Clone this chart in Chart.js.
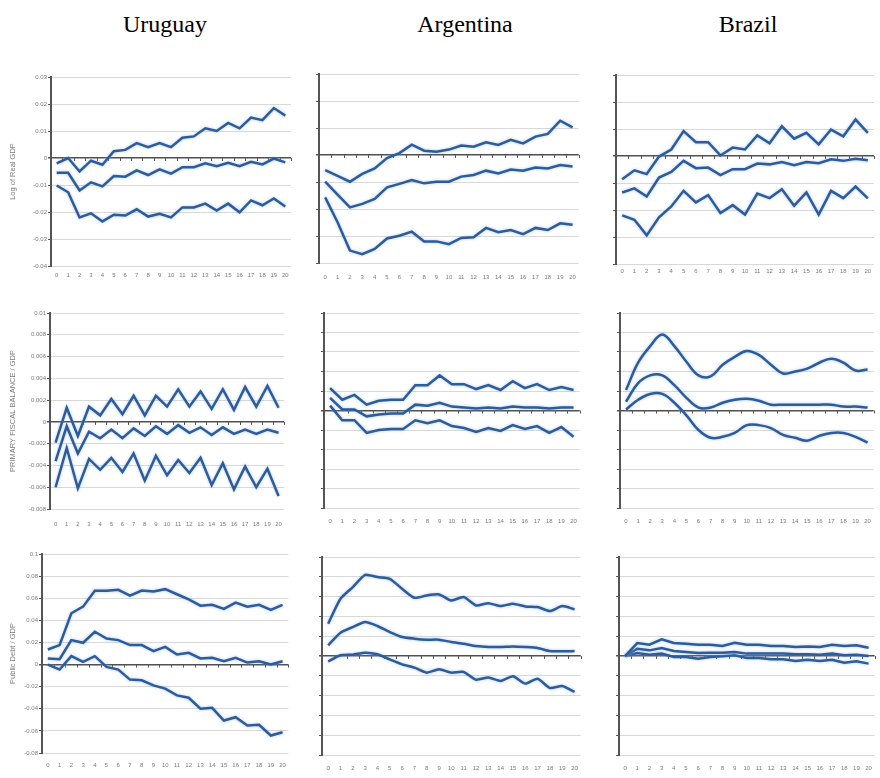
<!DOCTYPE html>
<html>
<head>
<meta charset="utf-8">
<script src="https://cdn.jsdelivr.net/npm/chart.js@4"></script>
<style>
  body { margin: 0; background: #fff; }
  #page { position: relative; width: 880px; height: 778px; overflow: hidden; background: #fff; }
  .country { position: absolute; top: 11px; font-family: "Liberation Serif", "Times New Roman", serif; font-size: 24px; color: #000; transform: translateX(-50%); white-space: nowrap; }
  canvas { position: absolute; }
</style>
</head>
<body>
<div id="page">
  <div class="country" style="left:165px">Uruguay</div>
  <div class="country" style="left:465px">Argentina</div>
  <div class="country" style="left:748px">Brazil</div>
</div>
<script>
// impulse responses, horizons 0..20 (upper band / response / lower band)
const horizons = ['0','1','2','3','4','5','6','7','8','9','10','11','12','13','14','15','16','17','18','19','20'];

const gdpTicks = [0.03, 0.02, 0.01, 0, -0.01, -0.02, -0.03, -0.04];
const balUyTicks = [0.01, 0.008, 0.006, 0.004, 0.002, 0, -0.002, -0.004, -0.006, -0.008];
const balTicks = [0.01, 0.008, 0.006, 0.004, 0.002, 0, -0.002, -0.004, -0.006, -0.008, -0.01];
const debtUyTicks = [0.1, 0.08, 0.06, 0.04, 0.02, 0, -0.02, -0.04, -0.06, -0.08];
const debtTicks = [0.1, 0.08, 0.06, 0.04, 0.02, 0, -0.02, -0.04, -0.06, -0.08, -0.1];

const uyGdpHi = [-0.002, 0.000, -0.005, -0.001, -0.0025, 0.0025, 0.003, 0.0055, 0.004, 0.0055, 0.004, 0.0075, 0.008, 0.011, 0.010, 0.013, 0.011, 0.015, 0.014, 0.0185, 0.0157];
const uyGdpMid = [-0.0055, -0.0055, -0.012, -0.009, -0.0105, -0.0067, -0.0069, -0.0046, -0.0063, -0.0042, -0.0058, -0.0034, -0.0034, -0.002, -0.003, -0.0018, -0.003, -0.0014, -0.0024, -0.0002, -0.0016];
const uyGdpLo = [-0.0102, -0.0127, -0.022, -0.0205, -0.0235, -0.021, -0.0213, -0.019, -0.0217, -0.0207, -0.022, -0.0183, -0.0183, -0.0169, -0.0195, -0.0169, -0.0201, -0.0157, -0.0175, -0.015, -0.018];

const arGdpHi = [-0.0056, -0.0077, -0.0099, -0.007, -0.005, -0.0011, 0.0007, 0.0038, 0.0016, 0.0012, 0.002, 0.0035, 0.0031, 0.0047, 0.0037, 0.0056, 0.0043, 0.0068, 0.0078, 0.0127, 0.0102];
const arGdpMid = [-0.0099, -0.0147, -0.0194, -0.0181, -0.0163, -0.012, -0.0107, -0.0093, -0.0105, -0.0099, -0.0099, -0.008, -0.0074, -0.0058, -0.0068, -0.0054, -0.0058, -0.0046, -0.005, -0.0037, -0.0043];
const arGdpLo = [-0.0157, -0.0249, -0.0354, -0.0367, -0.0348, -0.0309, -0.0299, -0.0284, -0.032, -0.032, -0.033, -0.0307, -0.0305, -0.027, -0.0286, -0.0278, -0.0293, -0.027, -0.0278, -0.0253, -0.0258];

const brGdpHi = [-0.0086, -0.0053, -0.0067, -0.0002, 0.0024, 0.0092, 0.0051, 0.0051, 0.0002, 0.0031, 0.0024, 0.0076, 0.0047, 0.011, 0.0064, 0.0086, 0.0043, 0.0098, 0.0073, 0.0135, 0.0086];
const brGdpMid = [-0.0135, -0.012, -0.015, -0.008, -0.0059, -0.0018, -0.0045, -0.0043, -0.0071, -0.0049, -0.0049, -0.0028, -0.0031, -0.0022, -0.0034, -0.0022, -0.0027, -0.0012, -0.0018, -0.001, -0.0016];
const brGdpLo = [-0.022, -0.0236, -0.0294, -0.0227, -0.0187, -0.0129, -0.0172, -0.0145, -0.0211, -0.0182, -0.0217, -0.0139, -0.0156, -0.0123, -0.0184, -0.0135, -0.0217, -0.0129, -0.0156, -0.0113, -0.0157];

const uyBalHi = [-0.0019, 0.0013, -0.0013, 0.0014, 0.0006, 0.0021, 0.0007, 0.0024, 0.0006, 0.0024, 0.0014, 0.003, 0.0014, 0.0028, 0.0012, 0.003, 0.0011, 0.0032, 0.0014, 0.0033, 0.0013];
const uyBalMid = [-0.0036, -0.0004, -0.0029, -0.0009, -0.0015, -0.0007, -0.0015, -0.0006, -0.0013, -0.0004, -0.0011, -0.0003, -0.001, -0.0005, -0.0012, -0.0005, -0.0011, -0.0007, -0.0011, -0.0007, -0.001];
const uyBalLo = [-0.006, -0.0024, -0.0061, -0.0034, -0.0044, -0.0033, -0.0046, -0.0029, -0.0054, -0.0031, -0.0049, -0.0035, -0.0047, -0.0033, -0.0058, -0.0038, -0.0062, -0.0041, -0.006, -0.0043, -0.0068];

const arBalHi = [0.0023, 0.0011, 0.0016, 0.0006, 0.001, 0.0011, 0.0011, 0.0026, 0.0026, 0.0036, 0.0027, 0.0027, 0.0022, 0.0026, 0.0021, 0.003, 0.0023, 0.0027, 0.0021, 0.0024, 0.0021];
const arBalMid = [0.0013, 0.0001, 0.0001, -0.0006, -0.0004, -0.0003, -0.0003, 0.0006, 0.0005, 0.0008, 0.0004, 0.0003, 0.0002, 0.0003, 0.0002, 0.0004, 0.0003, 0.0003, 0.0002, 0.0003, 0.0003];
const arBalLo = [0.0005, -0.001, -0.001, -0.0023, -0.002, -0.0019, -0.0019, -0.001, -0.0013, -0.001, -0.0016, -0.0018, -0.0022, -0.0018, -0.0021, -0.0015, -0.0019, -0.0016, -0.0023, -0.0017, -0.0027];

const brBalHi = [0.0021, 0.0049, 0.0066, 0.0078, 0.0066, 0.005, 0.0036, 0.0035, 0.0047, 0.0055, 0.0061, 0.0057, 0.0047, 0.0038, 0.004, 0.0043, 0.0049, 0.0053, 0.0049, 0.0041, 0.0042];
const brBalMid = [0.0009, 0.0028, 0.0036, 0.0036, 0.0026, 0.0013, 0.0003, 0.0003, 0.0008, 0.0011, 0.0012, 0.001, 0.0006, 0.0006, 0.0006, 0.0006, 0.0006, 0.0006, 0.0004, 0.0004, 0.0003];
const brBalLo = [0.0001, 0.0011, 0.0017, 0.0017, 0.0008, -0.0005, -0.002, -0.0028, -0.0027, -0.0023, -0.0015, -0.0015, -0.0018, -0.0025, -0.0028, -0.0031, -0.0026, -0.0023, -0.0023, -0.0027, -0.0033];

const uyDebtHi = [0.0136, 0.0176, 0.0464, 0.0524, 0.0667, 0.0667, 0.0676, 0.0624, 0.067, 0.066, 0.0682, 0.0636, 0.059, 0.0533, 0.054, 0.0503, 0.056, 0.0524, 0.054, 0.0494, 0.054];
const uyDebtMid = [0.0055, 0.0048, 0.0221, 0.0197, 0.0297, 0.0236, 0.0221, 0.0176, 0.0176, 0.0121, 0.016, 0.0091, 0.0106, 0.0055, 0.0061, 0.003, 0.0061, 0.0018, 0.003, 0, 0.003];
const uyDebtLo = [0, -0.0045, 0.0076, 0.0024, 0.0076, -0.0021, -0.0045, -0.0136, -0.0142, -0.0188, -0.0218, -0.0279, -0.03, -0.04, -0.0391, -0.0506, -0.0476, -0.0552, -0.0545, -0.0642, -0.0612];

const arDebtHi = [0.0326, 0.0578, 0.0696, 0.082, 0.0797, 0.078, 0.0679, 0.0588, 0.0612, 0.0622, 0.0561, 0.0595, 0.0511, 0.0534, 0.0504, 0.0528, 0.0501, 0.0494, 0.0454, 0.0504, 0.0471];
const arDebtMid = [0.0108, 0.0235, 0.0292, 0.0343, 0.0303, 0.0242, 0.0192, 0.0175, 0.0165, 0.0165, 0.0141, 0.0124, 0.0101, 0.0091, 0.0091, 0.0097, 0.0091, 0.0081, 0.005, 0.0047, 0.005];
const arDebtLo = [-0.0054, 0.0007, 0.0013, 0.0034, 0.0017, -0.0034, -0.0084, -0.0118, -0.0168, -0.0134, -0.0168, -0.0161, -0.0239, -0.0218, -0.0252, -0.0205, -0.0279, -0.0229, -0.0323, -0.0303, -0.0363];

const brDebtHi = [0, 0.0131, 0.0114, 0.0168, 0.0131, 0.0124, 0.0114, 0.0114, 0.0101, 0.0134, 0.0114, 0.0114, 0.0101, 0.0101, 0.0091, 0.0097, 0.0091, 0.0114, 0.0101, 0.0108, 0.0084];
const brDebtMid = [0, 0.0074, 0.0057, 0.0081, 0.005, 0.004, 0.003, 0.0034, 0.0034, 0.004, 0.0024, 0.0024, 0.0024, 0.0024, 0.0017, 0.0017, 0.0013, 0.0024, 0.0007, 0.0013, 0];
const brDebtLo = [0, 0.003, 0.0013, 0.0024, -0.001, -0.001, -0.0027, -0.001, -0.0003, 0.0007, -0.002, -0.002, -0.0034, -0.0034, -0.005, -0.0037, -0.005, -0.0037, -0.0067, -0.0054, -0.0077];

const LINE = '#2e5b9a';
const PAD_T = 8, PAD_R = 4, X_H = 24;

// plot box = [left, right, top, bottom] of the plotting area on the page
const panels = [
  { series: [uyGdpHi, uyGdpMid, uyGdpLo], ticks: gdpTicks, title: 'Log of Real GDP', box: [51, 291, 77, 266], gap: 6 },
  { series: [arGdpHi, arGdpMid, arGdpLo], ticks: gdpTicks, box: [319, 583, 74, 263], gap: 11 },
  { series: [brGdpHi, brGdpMid, brGdpLo], ticks: gdpTicks, box: [616, 874, 75, 264], gap: 4 },
  { series: [uyBalHi, uyBalMid, uyBalLo], ticks: balUyTicks, title: 'PRIMARY FISCAL BALANCE / GDP', box: [50, 290, 313, 509], gap: 12 },
  { series: [arBalHi, arBalMid, arBalLo], ticks: balTicks, box: [324, 583, 313, 508], gap: 10 },
  { series: [brBalHi, brBalMid, brBalLo], ticks: balTicks, box: [620, 877, 313, 508], gap: 10, tension: 0.4 },
  { series: [uyDebtHi, uyDebtMid, uyDebtLo], ticks: debtUyTicks, title: 'Public Debt / GDP', box: [42, 291, 554, 753], gap: 9 },
  { series: [arDebtHi, arDebtMid, arDebtLo], ticks: debtTicks, box: [322, 584, 557, 755], gap: 10, tension: 0.2 },
  { series: [brDebtHi, brDebtMid, brDebtLo], ticks: debtTicks, box: [619, 878, 557, 755], gap: 10 }
];

// small cross marks along the zero line, one per category boundary
const zeroTicks = {
  id: 'zeroTicks',
  beforeDatasetsDraw(chart) {
    const x = chart.scales.x, y = chart.scales.y, ctx = chart.ctx;
    const y0 = y.getPixelForValue(0);
    const step = (x.right - x.left) / x.ticks.length;
    ctx.save();
    ctx.strokeStyle = '#555';
    ctx.lineWidth = 1;
    ctx.beginPath();
    for (let i = 0; i <= x.ticks.length; i++) {
      const px = Math.round(x.left + i * step) + 0.5;
      ctx.moveTo(px, y0);
      ctx.lineTo(px, y0 + 3);
    }
    ctx.stroke();
    ctx.restore();
  }
};

// soft halo around the lines, like the scanned original
const halo = {
  id: 'halo',
  beforeDatasetsDraw(chart) {
    chart.ctx.save();
    chart.ctx.shadowColor = 'rgba(130,175,230,0.7)';
    chart.ctx.shadowBlur = 3;
  },
  afterDatasetsDraw(chart) { chart.ctx.restore(); }
};

function makePanel(p) {
  const [pl, pr, pt, pb] = p.box;
  const labelled = !!p.title;
  const yW = labelled ? pl : 10;
  const left = pl - yW, top = pt - PAD_T;
  const width = pr + PAD_R - left, height = pb + X_H - top;

  const canvas = document.createElement('canvas');
  canvas.width = width;
  canvas.height = height;
  canvas.style.left = left + 'px';
  canvas.style.top = top + 'px';
  canvas.style.width = width + 'px';
  canvas.style.height = height + 'px';
  document.getElementById('page').appendChild(canvas);

  new Chart(canvas, {
    type: 'line',
    data: {
      labels: horizons,
      datasets: p.series.map(s => ({
        data: s,
        borderColor: LINE,
        borderWidth: 2.5,
        pointRadius: 0,
        tension: p.tension || 0,
        fill: false
      }))
    },
    options: {
      responsive: false,
      animation: false,
      layout: { padding: { top: PAD_T, right: PAD_R, left: 0, bottom: 0 } },
      plugins: { legend: { display: false }, tooltip: { enabled: false } },
      scales: {
        x: {
          type: 'category',
          offset: true,
          afterFit: s => { s.height = X_H; },
          border: { display: false },
          grid: { display: false, drawTicks: false },
          ticks: {
            font: { family: 'Liberation Sans', size: 6 },
            color: '#7a7a7a',
            maxRotation: 0,
            minRotation: 0,
            autoSkip: false,
            padding: p.gap
          }
        },
        y: {
          type: 'linear',
          min: p.ticks[p.ticks.length - 1],
          max: p.ticks[0],
          afterBuildTicks: s => { s.ticks = p.ticks.map(v => ({ value: v })); },
          afterFit: s => { s.width = yW; },
          border: { color: '#555', width: 2 },
          grid: {
            color: c => (c.tick && c.tick.value === 0 ? '#505050' : '#d8d8d8'),
            lineWidth: c => (c.tick && c.tick.value === 0 ? 1.6 : 1),
            tickColor: '#555',
            tickLength: 3
          },
          ticks: {
            autoSkip: false,
            font: { family: 'Liberation Sans', size: 6 },
            color: labelled ? '#7a7a7a' : 'rgba(0,0,0,0)',
            padding: 1,
            callback: v => (labelled ? String(v) : '')
          },
          title: {
            display: labelled,
            text: p.title || '',
            font: { family: 'Liberation Sans', size: 7.5 },
            color: '#7a7a7a',
            padding: { top: 8, bottom: 0 }
          }
        }
      }
    },
    plugins: [zeroTicks, halo]
  });
}

panels.forEach(makePanel);
</script>
</body>
</html>
